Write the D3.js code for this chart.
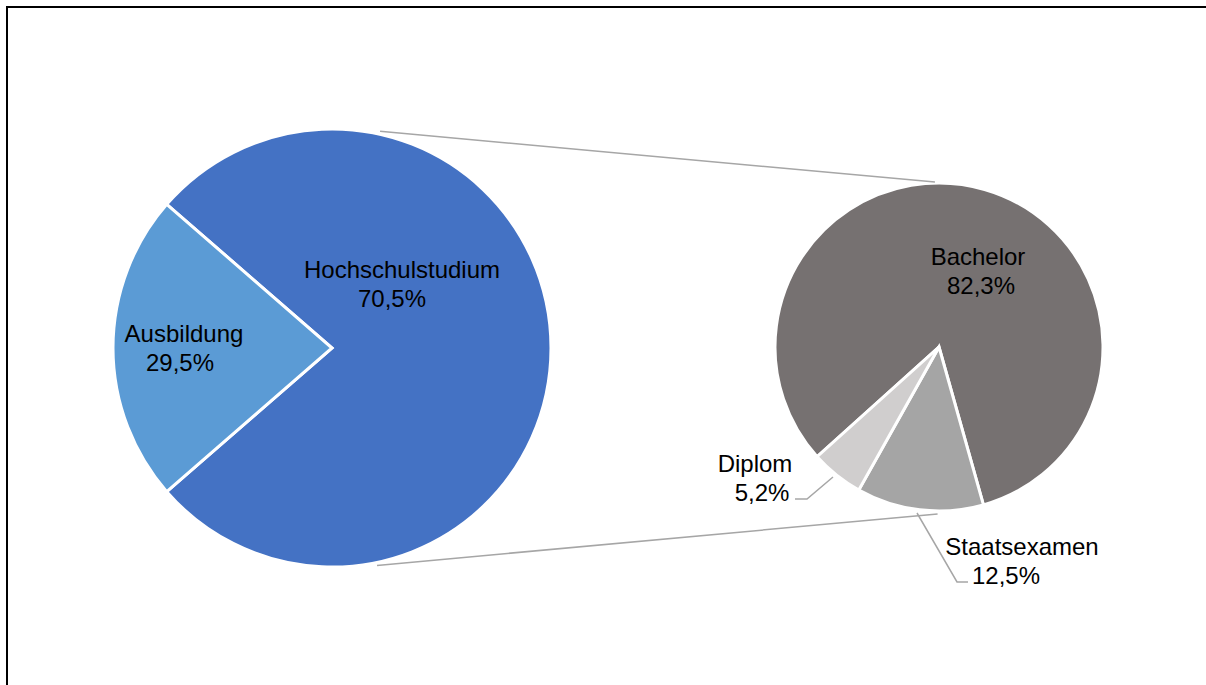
<!DOCTYPE html>
<html>
<head>
<meta charset="utf-8">
<script src="https://cdn.jsdelivr.net/npm/d3@7"></script>
<style>
    html, body { margin: 0; padding: 0; background: #fff; }
    svg { display: block; font-family: "Liberation Sans", Arial, sans-serif; }
</style>
</head>
<body>
<svg id="chart" width="1206" height="685"></svg>
<script>
// First pie: the split slice holds the sum of the second pie (as in Excel's pie of pie)
const mainCategories = ['Hochschulstudium', 'Ausbildung'];
const mainLabels = ['70,5%', '29,5%'];
const ausbildungValue = 29.5;

// Second pie
const subCategories = ['Bachelor', 'Staatsexamen', 'Diplom'];
const subValues = [82.3, 12.5, 5.2];
const subLabels = ['82,3%', '12,5%', '5,2%'];

const mainColors = ['#4472C4', '#5B9BD5'];
const subColors = ['#767171', '#A5A5A5', '#D0CECE'];

const svg = d3.select('#chart');
const rad = deg => deg * Math.PI / 180;

// frame (only left and top edges are visible)
svg.append('path')
    .attr('d', 'M7,685 L7,7 L1206,7')
    .attr('fill', 'none')
    .attr('stroke', '#000')
    .attr('stroke-width', 2);

const main = { cx: 332, cy: 348, r: 219 };
const sub = { cx: 939, cy: 347, r: 164 };

// Left pie
const mainValues = [d3.sum(subValues), ausbildungValue];
const ausbAngle = ausbildungValue / d3.sum(mainValues) * 2 * Math.PI;
const mainPie = d3.pie().sort(null)
    .startAngle(-Math.PI / 2 + ausbAngle / 2)
    .endAngle(-Math.PI / 2 + ausbAngle / 2 + 2 * Math.PI);
const mainArc = d3.arc().innerRadius(0).outerRadius(main.r);

const gMain = svg.append('g').attr('transform', `translate(${main.cx},${main.cy})`);
gMain.selectAll('path')
    .data(mainPie(mainValues))
    .enter()
    .append('path')
    .attr('d', mainArc)
    .attr('fill', (d, i) => mainColors[i])
    .attr('stroke', '#fff')
    .attr('stroke-width', 3)
    .attr('stroke-linejoin', 'miter');

// Right pie
const subPie = d3.pie().sort(null)
    .startAngle(rad(-132))
    .endAngle(rad(228));
const subArc = d3.arc().innerRadius(0).outerRadius(sub.r);

const gSub = svg.append('g').attr('transform', `translate(${sub.cx},${sub.cy})`);
gSub.selectAll('path')
    .data(subPie(subValues))
    .enter()
    .append('path')
    .attr('d', subArc)
    .attr('fill', (d, i) => subColors[i])
    .attr('stroke', '#fff')
    .attr('stroke-width', 3)
    .attr('stroke-linejoin', 'miter');

// Connector lines between the pies
function onCircle(c, r, deg) {
    return [c.cx + r * Math.sin(rad(deg)), c.cy - r * Math.cos(rad(deg))];
}
const connectors = [
    [onCircle(main, main.r + 3, 12.5), onCircle(sub, sub.r + 1, -1.4)],
    [onCircle(main, main.r + 3, 168.3), onCircle(sub, sub.r + 3, 180.5)]
];
svg.selectAll('.connector')
    .data(connectors)
    .enter()
    .append('line')
    .attr('class', 'connector')
    .attr('x1', d => d[0][0]).attr('y1', d => d[0][1])
    .attr('x2', d => d[1][0]).attr('y2', d => d[1][1])
    .attr('stroke', '#A6A6A6')
    .attr('stroke-width', 1.5);

// Leader lines for the small slices
const leaders = [
    [[795, 499], [807, 499], [833, 477]],
    [[917, 513], [957, 582], [968, 582]]
];
svg.selectAll('.leader')
    .data(leaders)
    .enter()
    .append('path')
    .attr('class', 'leader')
    .attr('d', d => d3.line()(d))
    .attr('fill', 'none')
    .attr('stroke', '#A6A6A6')
    .attr('stroke-width', 1.5);

// Labels: name line and value line, each with its own centre
const labelLayout = [
    { name: mainCategories[0], value: mainLabels[0], x1: 402, x2: 392, y: 278 },
    { name: mainCategories[1], value: mainLabels[1], x1: 184, x2: 180, y: 342 },
    { name: subCategories[0], value: subLabels[0], x1: 978, x2: 981, y: 265 },
    { name: subCategories[1], value: subLabels[1], x1: 1022, x2: 1006, y: 555 },
    { name: subCategories[2], value: subLabels[2], x1: 755, x2: 762, y: 472 }
];

const labels = svg.selectAll('.label')
    .data(labelLayout)
    .enter()
    .append('text')
    .attr('class', 'label')
    .attr('text-anchor', 'middle')
    .attr('font-size', '24px')
    .attr('fill', '#000');

labels.append('tspan')
    .attr('x', d => d.x1)
    .attr('y', d => d.y)
    .text(d => d.name);

labels.append('tspan')
    .attr('x', d => d.x2)
    .attr('y', d => d.y + 29)
    .text(d => d.value);
</script>
</body>
</html>
